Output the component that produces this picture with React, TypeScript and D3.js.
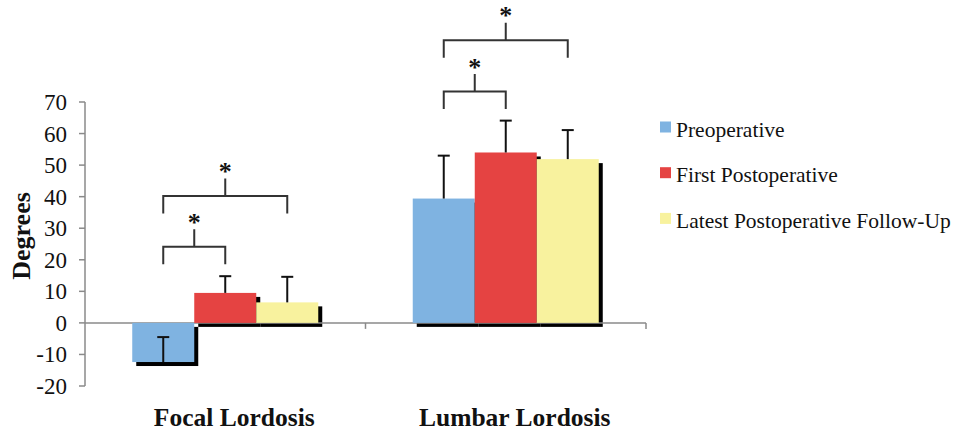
import React from "react";
import * as d3 from "d3";

const categories = ["Focal Lordosis", "Lumbar Lordosis"];
const seriesNames = ["Preoperative", "First Postoperative", "Latest Postoperative Follow-Up"];
const preoperative = [-12.4, 39.4];
const firstPostoperative = [9.5, 54.0];
const latestPostoperative = [6.5, 51.9];
const preoperativeSD = [7.9, 13.6];
const firstPostoperativeSD = [5.3, 10.1];
const latestPostoperativeSD = [8.1, 9.2];
const yTicks = [-20, -10, 0, 10, 20, 30, 40, 50, 60, 70];
// significance brackets: category index, from series, to series, bracket level (degrees)
const bracketCategory = [0, 0, 1, 1];
const bracketFrom = [0, 0, 0, 0];
const bracketTo = [1, 2, 1, 2];
const bracketLevel = [24.1, 40.2, 73.3, 89.6];

const colors = ["#7FB3E1", "#E54342", "#F8F29E"];
const FONT = "'Liberation Serif', 'Times New Roman', serif";

export default function App() {
  const W = 955, H = 433;
  const plotLeft = 85, plotRight = 646;
  const y = d3.scaleLinear().domain([-20, 70]).range([386, 102]);
  const x0 = d3.scaleBand<string>().domain(categories).range([plotLeft, plotRight]).paddingInner(0).paddingOuter(0);
  const x1 = d3.scaleBand<string>().domain(seriesNames).range([0, x0.bandwidth()]).paddingInner(0).paddingOuter(0.762);
  const values = [preoperative, firstPostoperative, latestPostoperative];
  const sds = [preoperativeSD, firstPostoperativeSD, latestPostoperativeSD];
  const bw = x1.bandwidth();
  const shadow = 4;

  const bars: any[] = [];
  categories.forEach((c, ci) => {
    seriesNames.forEach((s, si) => {
      const v = values[si][ci];
      const xx = (x0(c) as number) + (x1(s) as number);
      const y0 = y(0), yv = y(v);
      bars.push({ x: xx, top: Math.min(y0, yv), h: Math.abs(y0 - yv), color: colors[si], cx: xx + bw / 2, yv, ye: y(v + sds[si][ci]), key: c + s });
    });
  });

  const cxOf = (ci: number, si: number) => (x0(categories[ci]) as number) + (x1(seriesNames[si]) as number) + bw / 2;

  return (
    <svg width={W} height={H} style={{ position: "absolute", left: 0, top: 0, background: "#fff" }}>
      {/* y axis */}
      <line x1={plotLeft} x2={plotLeft} y1={y(70)} y2={y(-20)} stroke="#8a8a8a" strokeWidth={1.5} />
      {yTicks.map((t) => (
        <g key={t}>
          <line x1={plotLeft - 6} x2={plotLeft} y1={y(t)} y2={y(t)} stroke="#8a8a8a" strokeWidth={1.5} />
          <text x={67} y={y(t)} dy="0.35em" textAnchor="end" fontFamily={FONT} fontSize={23} fill="#111">{t}</text>
        </g>
      ))}
      <text transform={`translate(30,${236}) rotate(-90)`} textAnchor="middle" fontFamily={FONT} fontSize={26} fontWeight="bold" fill="#111">Degrees</text>

      {/* shadows */}
      {bars.map((b) => (
        <rect key={"s" + b.key} x={b.x + shadow} y={b.top + shadow} width={bw} height={b.h} fill="#000" />
      ))}
      {/* zero line */}
      <line x1={plotLeft} x2={plotRight} y1={y(0)} y2={y(0)} stroke="#8a8a8a" strokeWidth={1.5} />
      {[plotLeft + (plotRight - plotLeft) / 2, plotRight].map((tx) => (
        <line key={tx} x1={tx} x2={tx} y1={y(0)} y2={y(0) + 6} stroke="#8a8a8a" strokeWidth={1.5} />
      ))}
      {/* bars */}
      {bars.map((b) => (
        <rect key={"b" + b.key} x={b.x} y={b.top} width={bw} height={b.h} fill={b.color} />
      ))}
      {/* error bars */}
      {bars.map((b) => (
        <g key={"e" + b.key} stroke="#111" strokeWidth={2}>
          <line x1={b.cx} x2={b.cx} y1={b.yv} y2={b.ye} />
          <line x1={b.cx - 6} x2={b.cx + 6} y1={b.ye} y2={b.ye} />
        </g>
      ))}
      {/* brackets */}
      {bracketLevel.map((lv, i) => {
        const ci = bracketCategory[i];
        const xa = cxOf(ci, bracketFrom[i]);
        const xb = cxOf(ci, bracketTo[i]);
        const yl = y(lv);
        const xm = (xa + xb) / 2;
        const leg = 17.5;
        return (
          <g key={"br" + i}>
            <path d={`M${xa},${yl + leg}V${yl}H${xb}V${yl + leg}M${xm},${yl}V${yl - leg}`} fill="none" stroke="#333" strokeWidth={2} />
            <text x={xm} y={yl - leg - 10} dy="0.45em" textAnchor="middle" fontFamily={FONT} fontSize={26} fontWeight="bold" fill="#111">*</text>
          </g>
        );
      })}
      {/* category labels */}
      {categories.map((c) => (
        <text key={c} x={(x0(c) as number) + x0.bandwidth() / 2 + 9} y={426} textAnchor="middle" fontFamily={FONT} fontSize={25.5} fontWeight="bold" fill="#111">{c}</text>
      ))}
      {/* legend */}
      {seriesNames.map((s, i) => (
        <g key={s} transform={`translate(660,${121.5 + i * 45.7})`}>
          <rect x={0} y={0} width={11} height={11} fill={colors[i]} />
          <text x={16} y={15} fontFamily={FONT} fontSize={21.5} fill="#111">{s}</text>
        </g>
      ))}
    </svg>
  );
}
